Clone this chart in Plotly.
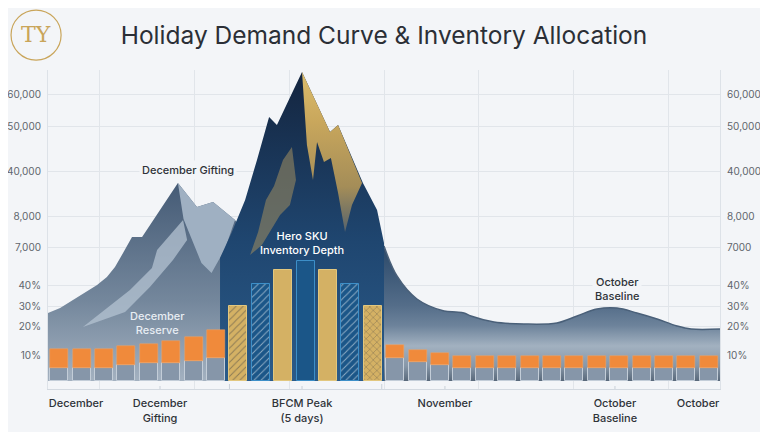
import plotly.graph_objects as go

# --- axes (chart units: x = slot index, y = height above baseline) ---
y_tick_vals = [26, 55, 75, 96, 134, 165, 210, 255, 287]
y_tick_left = ["10%", "20%", "30%", "40%", "7,000", "8,000", "40,000", "50,000", "60,000"]
y_tick_right = ["10%", "20%", "30%", "40%", "7000", "8,000", "40,000", "50,000", "60,000"]

x_label_vals = [0.75, 4.5, 10.84, 17.22, 24.81, 28.52]
x_label_text = ["December", "December<br>Gifting", "BFCM Peak<br>(5 days)",
                "November", "October<br>Baseline", "October"]
x_grid_vals = [1.78, 6.02, 10.26, 14.5, 18.74, 22.98, 27.22]

# --- inventory bars ---
left_x = [0, 1, 2, 3, 4, 5, 6, 7]
left_base = [13, 13, 13, 16, 18, 18, 20, 23]
left_reserve = [19, 19, 19, 19, 19, 22, 24, 28]

bfcm_x = [8, 9, 10, 11, 12, 13, 14]
bfcm_depth = [75, 97, 111, 120, 111, 97, 75]
bfcm_kind = ["gold", "blue", "gold", "blue", "gold", "blue", "gold"]
bfcm_hatch = ["/", "/", "", "", "", "/", "x"]

right_x = [15, 16, 17, 18, 19, 20, 21, 22, 23, 24, 25, 26, 27, 28, 29]
right_base = [23, 19, 16, 13, 13, 13, 13, 13, 13, 13, 13, 13, 13, 13, 13]
right_reserve = [13, 12, 12, 12, 12, 12, 12, 12, 12, 12, 12, 12, 12, 12, 12]

# --- demand curve pieces ---
dec_x = [-0.5, -0.5, 0.04, 0.62, 1.15, 1.69, 2.13, 2.49, 2.85, 3.25, 3.70, 4.50,
         5.30, 6.15, 6.87, 7.85, 8.52, 8.52]
dec_y = [0, 68, 73, 81, 88, 96, 104, 114, 128, 144, 144, 171, 198, 174, 179, 161, 141, 0]

dec_face_x = [5.30, 6.15, 6.87, 7.85, 7.40, 6.80, 6.35, 6.05, 5.75, 5.55]
dec_face_y = [198, 174, 179, 161, 132, 108, 118, 135, 150, 162]

dec_streak_x = [5.53, 4.37, 4.14, 3.16, 1.06, 2.94, 4.05, 5.08, 5.71]
dec_streak_y = [161, 131, 113, 91, 54, 69, 94, 121, 141]

tail_x = [14.5, 15.08, 15.97, 17.18, 17.71, 18.07, 18.38, 19.41, 20.75, 22.22,
          23.12, 24.01, 24.90, 25.79, 26.69, 27.58, 28.21, 29.5]
tail_y = [135, 105, 82, 70, 69, 68, 65, 59, 57, 58, 65, 72, 73, 68, 62, 55, 52, 52]

peak_x = [7.18, 7.18, 7.71, 8.30, 8.83, 9.37, 9.72, 10.84, 12.09, 12.45,
          13.56, 14.19, 14.5, 14.5]
peak_y = [0, 123, 149, 181, 221, 264, 256, 309, 249, 256, 198, 171, 138, 0]

gold_x = [10.84, 12.09, 12.45, 13.52, 13.07, 12.76, 12.45, 12.13, 11.82, 11.51, 11.33, 11.06]
gold_y = [309, 249, 256, 198, 176, 149, 188, 223, 219, 239, 201, 236]

glint_x = [10.39, 10.57, 10.30, 9.86, 9.05, 8.52, 8.88, 9.23, 9.59, 9.99]
glint_y = [234, 201, 176, 166, 136, 126, 149, 181, 195, 221]

FONT = "Inter"
BG = "#f3f5f8"

fig = go.Figure()

fig.add_trace(go.Scatter(
    x=dec_x, y=dec_y, fill="toself", mode="lines", line=dict(width=0),
    fillgradient=dict(type="vertical", start=0, stop=200,
                      colorscale=[[0, "#a3b1c0"], [0.4, "#74879c"], [1, "#445a75"]]),
    hoverinfo="skip"))
fig.add_trace(go.Scatter(
    x=dec_face_x, y=dec_face_y, fill="toself", mode="lines", line=dict(width=0),
    fillcolor="#9fb0c2", hoverinfo="skip"))
fig.add_trace(go.Scatter(
    x=dec_streak_x, y=dec_streak_y, fill="toself", mode="lines", line=dict(width=0),
    fillcolor="rgba(180,195,210,0.75)", hoverinfo="skip"))

fig.add_trace(go.Scatter(
    x=tail_x, y=tail_y, fill="tozeroy", mode="lines", line_shape="spline",
    line=dict(width=1.5, color="#4a6079"),
    fillgradient=dict(type="vertical", start=0, stop=135,
                      colorscale=[[0, "#58687a"], [0.11, "#8797a8"], [0.26, "#a2b1c0"],
                                  [0.41, "#6d839b"], [0.56, "#546d89"], [1, "#2a4869"]]),
    hoverinfo="skip"))

fig.add_trace(go.Scatter(
    x=peak_x, y=peak_y, fill="toself", mode="lines", line=dict(width=0),
    fillgradient=dict(type="vertical", start=0, stop=309,
                      colorscale=[[0, "#2b5b89"], [0.45, "#1f4670"], [1, "#14253f"]]),
    hoverinfo="skip"))
fig.add_trace(go.Scatter(
    x=gold_x, y=gold_y, fill="toself", mode="lines", line=dict(width=0),
    fillgradient=dict(type="vertical", start=145, stop=309,
                      colorscale=[[0, "#4f5f6e"], [0.3, "#a48d58"], [0.7, "#c9a75c"], [1, "#dcbd6c"]]),
    hoverinfo="skip"))
fig.add_trace(go.Scatter(
    x=glint_x, y=glint_y, fill="toself", mode="lines", line=dict(width=0),
    fillcolor="rgba(150,135,95,0.6)", hoverinfo="skip"))

# inventory bars sit on the overlaying right axis so they draw above the filled areas
for xs, base, top in [(left_x, left_base, left_reserve), (right_x, right_base, right_reserve)]:
    fig.add_trace(go.Bar(x=xs, y=base, width=0.8, yaxis="y2", marker=dict(
        color="#8696a9", line=dict(color="#c3cdd8", width=1)), hoverinfo="skip"))
    fig.add_trace(go.Bar(x=xs, y=top, base=base, width=0.8, yaxis="y2", marker=dict(
        color="#f08a3b", line=dict(color="#f5a460", width=0.5)), hoverinfo="skip"))

bar_colors = {"gold": ("#d4b164", "#b08e48"), "blue": ("#1b5688", "#2a78b2")}
fig.add_trace(go.Bar(
    x=bfcm_x, y=bfcm_depth, width=0.8, yaxis="y2",
    marker=dict(
        color=[bar_colors[k][0] for k in bfcm_kind],
        line=dict(color=["#e2c77e" if k == "gold" else "#3d8fc8" for k in bfcm_kind], width=1),
        pattern=dict(shape=bfcm_hatch, fgcolor=[bar_colors[k][1] for k in bfcm_kind],
                     size=5, solidity=0.2)),
    hoverinfo="skip"))

ann_font = dict(family=FONT, size=11, color="#2f3338", weight=500)
light_font = dict(family=FONT, size=11, color="#e8edf3", weight=500)
fig.add_annotation(x=5.75, y=211, text="December Gifting", showarrow=False,
                   font=ann_font, bgcolor=BG, borderpad=2)
fig.add_annotation(x=4.41, y=58, text="December<br>Reserve", showarrow=False, font=light_font)
fig.add_annotation(x=10.84, y=138, text="Hero SKU<br>Inventory Depth", showarrow=False,
                   font=dict(family=FONT, size=11, color="#ffffff", weight=500))
fig.add_annotation(x=24.9, y=92, text="October<br>Baseline", showarrow=False,
                   font=ann_font, bgcolor=BG, borderpad=2)

# logo
fig.add_shape(type="circle", xref="paper", yref="paper",
              x0=-0.055, x1=0.0195, y0=1.031, y1=1.188,
              line=dict(color="#c9a55a", width=1.2))
fig.add_annotation(xref="paper", yref="paper", x=-0.018, y=1.11, text="TY",
                   xanchor="center", yanchor="middle", showarrow=False,
                   font=dict(family="DejaVu Serif", size=22, color="#c9a55a"))

# BFCM bracket ends and small label ticks
for xb in [bfcm_x[0] - 0.4, bfcm_x[-1] + 0.4]:
    fig.add_shape(type="line", x0=xb, x1=xb, y0=-8, y1=-3, line=dict(color="#c9d0d8", width=1))
for xt in x_label_vals[1:5]:
    fig.add_shape(type="line", x0=xt, x1=xt, y0=-8, y1=-5, line=dict(color="#c9d0d8", width=1))

# page body adds an 8px offset, so the figure is 8px smaller and margins shifted
fig.update_layout(
    width=760, height=424,
    margin=dict(l=40, r=48, t=62, b=43),
    paper_bgcolor=BG, plot_bgcolor=BG,
    showlegend=False, barmode="overlay", bargap=0,
    title=dict(text="Holiday Demand Curve & Inventory Allocation", x=0.5, xanchor="center",
               xref="paper", y=0.936, yanchor="middle",
               font=dict(family=FONT, size=24.5, color="#2b2f36")),
    xaxis=dict(range=[-0.5, 29.5], tickmode="array", tickvals=x_label_vals, ticktext=x_label_text,
               showgrid=False, zeroline=False, showline=True, linecolor="#d3d9e0",
               ticks="outside", ticklen=4, tickcolor="rgba(0,0,0,0)", automargin=False,
               tickfont=dict(family=FONT, size=11, color="#2f3338", weight=500),
               minor=dict(tickmode="array", tickvals=x_grid_vals, showgrid=True,
                          gridcolor="#e1e5ea", gridwidth=1, ticks=""),
               fixedrange=True),
    yaxis=dict(range=[-8, 311], tickmode="array", tickvals=y_tick_vals, ticktext=y_tick_left,
               showgrid=True, gridcolor="#e1e5ea", zeroline=False, showline=True,
               linecolor="#dde2e8", ticks="outside", ticklen=4, tickcolor="rgba(0,0,0,0)",
               automargin=False,
               tickfont=dict(family=FONT, size=10, color="#60656c"), fixedrange=True),
    yaxis2=dict(range=[-8, 311], overlaying="y", side="right", tickmode="array",
                tickvals=y_tick_vals, ticktext=y_tick_right, showgrid=False, zeroline=False,
                showline=True, linecolor="#dde2e8", ticks="outside", ticklen=4,
                tickcolor="rgba(0,0,0,0)", automargin=False,
                tickfont=dict(family=FONT, size=10, color="#60656c"), fixedrange=True),
)

fig.write_html("out.html")
